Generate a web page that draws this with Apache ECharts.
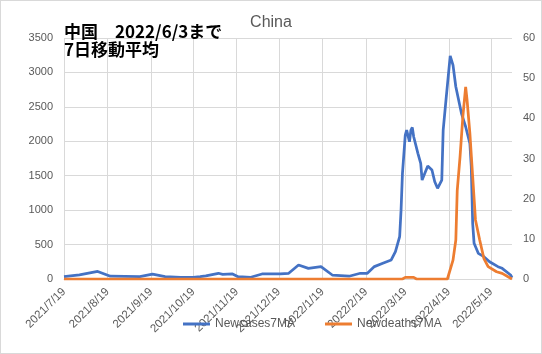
<!DOCTYPE html>
<html>
<head>
<meta charset="utf-8">
<script src="https://cdn.jsdelivr.net/npm/echarts@6/dist/echarts.min.js"></script>
<style>
  html, body { margin: 0; padding: 0; background: #fff; }
  #chart { width: 542px; height: 354px; box-sizing: border-box; border: 1px solid #d9d9d9; }
</style>
</head>
<body>
<div id="chart"></div>
<script>
// 7日移動平均
const caseDates = [
  "2021/7/19", "2021/7/30", "2021/8/12", "2021/8/21", "2021/9/11", "2021/9/20",
  "2021/9/29", "2021/10/10", "2021/10/19", "2021/10/24", "2021/10/28", "2021/11/6",
  "2021/11/9", "2021/11/16", "2021/11/20", "2021/11/29", "2021/12/7", "2021/12/20",
  "2021/12/26", "2022/1/2", "2022/1/9", "2022/1/18", "2022/1/26", "2022/2/7",
  "2022/2/15", "2022/2/20", "2022/2/25", "2022/3/3", "2022/3/9", "2022/3/12",
  "2022/3/15", "2022/3/16", "2022/3/17", "2022/3/19", "2022/3/20", "2022/3/22",
  "2022/3/23", "2022/3/24", "2022/3/25", "2022/3/28", "2022/3/30", "2022/3/31",
  "2022/4/4", "2022/4/7", "2022/4/9", "2022/4/11", "2022/4/14", "2022/4/15",
  "2022/4/17", "2022/4/20", "2022/4/22", "2022/4/24", "2022/4/28", "2022/5/1",
  "2022/5/4", "2022/5/5", "2022/5/6", "2022/5/7", "2022/5/10", "2022/5/14",
  "2022/5/18", "2022/5/24", "2022/5/27", "2022/6/2", "2022/6/3",
];
const newCases = [
  35, 60, 110, 40, 35, 70,
  35, 22, 22, 33, 45, 83,
  68, 73, 33, 25, 73, 73,
  83, 203, 155, 179, 58, 40,
  83, 83, 180, 228, 276, 396,
  614, 1000, 1535, 2090, 2163, 1993,
  2163, 2200, 2066, 1825, 1680, 1437,
  1640, 1583, 1413, 1317, 1437, 2163,
  2600, 3240, 3107, 2792, 2406, 2211,
  1970, 1630, 809, 518, 373, 324,
  251, 179, 155, 58, 20,
];

const deathDates = [
  "2021/7/19", "2022/3/17", "2022/3/19", "2022/3/25", "2022/3/27", "2022/4/18",
  "2022/4/22", "2022/4/24", "2022/4/25", "2022/4/27", "2022/4/29", "2022/5/1",
  "2022/5/2", "2022/5/4", "2022/5/6", "2022/5/8", "2022/5/11", "2022/5/14",
  "2022/5/17", "2022/5/23", "2022/5/27", "2022/6/2", "2022/6/3",
];
const newDeaths = [
  0, 0, 0.4, 0.4, 0, 0,
  4.7, 9.7, 22, 30.4, 40.4, 47.8,
  44.6, 36.3, 25.5, 14.7, 9.7, 5.1,
  3.1, 1.8, 1.4, 0.2, 0,
];

// daily categories 2021/7/19 .. 2022/6/3
const categories = [];
for (let d = new Date(2021, 6, 19); d <= new Date(2022, 5, 3); d.setDate(d.getDate() + 1)) {
  categories.push(d.getFullYear() + "/" + (d.getMonth() + 1) + "/" + d.getDate());
}
const isTick = (i, v) => /\/19$/.test(v);

const font = "'Liberation Sans', Arial, sans-serif";
const chart = echarts.init(document.getElementById("chart"));
chart.setOption({
  animation: false,
  textStyle: { fontFamily: font },
  title: [
    {
      text: "China",
      left: "center",
      top: 9,
      textStyle: { fontSize: 16, fontWeight: "normal", color: "#595959", fontFamily: font },
    },
    {
      text: "中国　2022/6/3まで\n7日移動平均",
      left: 58,
      top: 17,
      textStyle: {
        fontSize: 17,
        fontWeight: "bold",
        color: "#000",
        lineHeight: 18,
        fontFamily: "'Noto Sans CJK JP', sans-serif",
      },
    },
  ],
  legend: {
    left: 177,
    top: 312,
    icon: "rect",
    itemWidth: 27,
    itemHeight: 3,
    itemGap: 30,
    textStyle: { fontSize: 12, color: "#595959" },
    data: ["Newcases7MA", "Newdeaths7MA"],
  },
  grid: { left: 63, right: 29, top: 37, bottom: 74 },
  xAxis: {
    type: "category",
    boundaryGap: false,
    data: categories,
    axisLine: { lineStyle: { color: "#d9d9d9" } },
    axisTick: { show: false },
    axisLabel: { interval: isTick, rotate: 45, color: "#595959", fontSize: 11.5, margin: 11 },
    splitLine: { show: true, interval: isTick, lineStyle: { color: "#d9d9d9" } },
  },
  yAxis: [
    {
      type: "value",
      min: 0,
      max: 3500,
      interval: 500,
      axisLabel: { color: "#595959", fontSize: 11, margin: 11, formatter: (v) => String(v) },
      splitLine: { lineStyle: { color: "#d9d9d9" } },
    },
    {
      type: "value",
      min: 0,
      max: 60,
      interval: 10,
      axisLabel: { color: "#595959", fontSize: 11, margin: 11, formatter: (v) => String(v) },
      splitLine: { show: false },
    },
  ],
  series: [
    {
      name: "Newcases7MA",
      type: "line",
      yAxisIndex: 0,
      showSymbol: false,
      data: caseDates.map((d, i) => [d, newCases[i]]),
      itemStyle: { color: "#4472C4" },
      lineStyle: { color: "#4472C4", width: 2.75 },
    },
    {
      name: "Newdeaths7MA",
      type: "line",
      yAxisIndex: 1,
      showSymbol: false,
      data: deathDates.map((d, i) => [d, newDeaths[i]]),
      itemStyle: { color: "#ED7D31" },
      lineStyle: { color: "#ED7D31", width: 2.75 },
    },
  ],
});
</script>
</body>
</html>
